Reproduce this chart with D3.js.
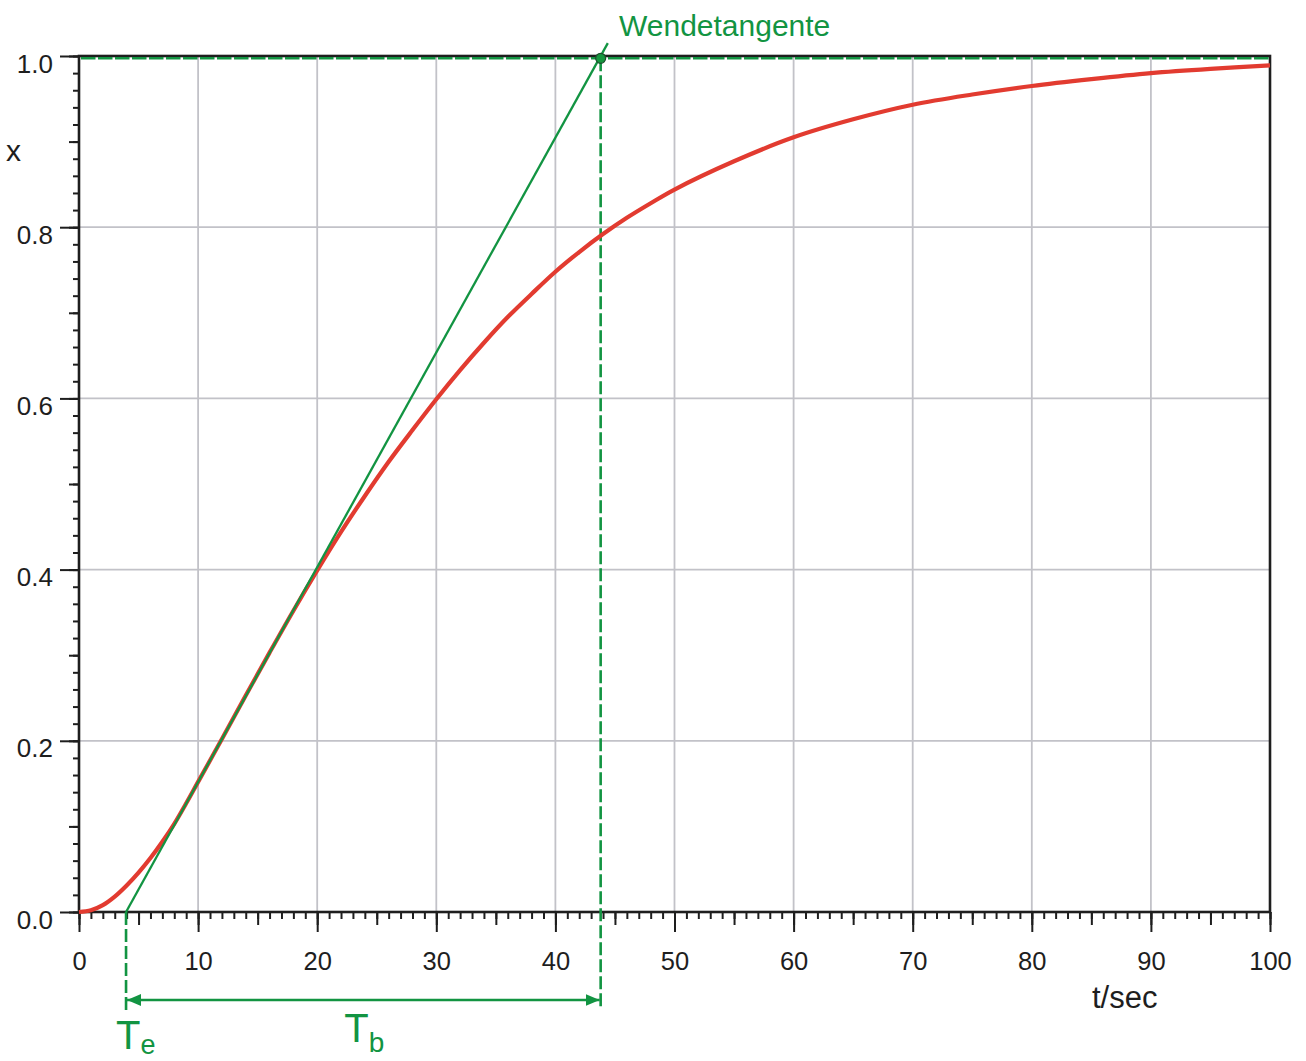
<!DOCTYPE html>
<html>
<head>
<meta charset="utf-8">
<script src="https://cdn.jsdelivr.net/npm/d3@7"></script>
<style>
    body { margin: 0; background: #fff; }
    svg { display: block; font-family: "Liberation Sans", Arial, sans-serif; }
</style>
</head>
<body>
<div id="chart"></div>
<script>
// Step response (t in sec, x normalised)
const tValues = [0, 1, 2, 3, 4, 5, 6, 7, 8, 9, 10, 12, 14, 16, 18, 20, 22, 24, 26, 28,
    30, 32, 34, 36, 38, 40, 42, 44, 46, 48, 50, 55, 60, 65, 70, 75, 80, 85, 90, 95, 100];
const xValues = [0, 0.002, 0.008, 0.018, 0.031, 0.046, 0.063, 0.082, 0.103, 0.127, 0.152,
    0.202, 0.253, 0.303, 0.352, 0.399, 0.444, 0.486, 0.526, 0.563,
    0.599, 0.633, 0.665, 0.695, 0.722, 0.748, 0.771, 0.792, 0.811, 0.828, 0.844,
    0.877, 0.905, 0.926, 0.943, 0.955, 0.965, 0.973, 0.980, 0.985, 0.989];

// Inflection tangent: crosses 0 at Te and 1 at Te+Tb, drawn a little past 1
const Te = 3.95;
const TeTb = 43.8;
const tangentEnd = 44.4;

const xTickLabels = ['0', '10', '20', '30', '40', '50', '60', '70', '80', '90', '100'];
const yTickLabels = ['0.0', '0.2', '0.4', '0.6', '0.8', '1.0'];

const width = 1306, height = 1061;
const green = '#129442';
const ink = '#1e1e1e';

const svg = d3.select('#chart').append('svg')
    .attr('width', width)
    .attr('height', height);

const x = d3.scaleLinear().domain([0, 100]).range([79, 1270]);
const y = d3.scaleLinear().domain([0, 1]).range([912, 56]);

// grid
svg.append('g')
    .selectAll('line')
    .data(xTickLabels.map(Number).filter(d => d > 0 && d < 100))
    .join('line')
    .attr('x1', d => x(d)).attr('x2', d => x(d))
    .attr('y1', y(0)).attr('y2', y(1))
    .attr('stroke', '#c2c2c8').attr('stroke-width', 1.8);

svg.append('g')
    .selectAll('line')
    .data(yTickLabels.map(Number).filter(d => d > 0 && d < 1))
    .join('line')
    .attr('x1', x(0)).attr('x2', x(100))
    .attr('y1', d => y(d)).attr('y2', d => y(d))
    .attr('stroke', '#c2c2c8').attr('stroke-width', 1.8);

// ticks: minor, medium, major
function styleAxis(g) {
    g.select('.domain').remove();
    g.selectAll('.tick line').attr('stroke', ink).attr('stroke-width', 2);
}

svg.append('g').attr('transform', `translate(${x(0)},0)`)
    .call(d3.axisLeft(y).tickValues(d3.range(0, 51).map(i => i / 50)).tickSize(6).tickFormat(''))
    .call(styleAxis);
svg.append('g').attr('transform', `translate(${x(0)},0)`)
    .call(d3.axisLeft(y).tickValues(d3.range(0, 11).map(i => i / 10)).tickSize(10).tickFormat(''))
    .call(styleAxis);
const yMajor = svg.append('g').attr('transform', `translate(${x(0)},0)`)
    .call(d3.axisLeft(y).tickValues(yTickLabels.map(Number)).tickSize(19).tickPadding(7)
        .tickFormat((d, i) => yTickLabels[i]))
    .call(styleAxis);
yMajor.selectAll('.tick text')
    .attr('font-size', 26).attr('fill', ink).attr('font-family', null).attr('dy', '0.62em');

svg.append('g').attr('transform', `translate(0,${y(0)})`)
    .call(d3.axisBottom(x).tickValues(d3.range(0, 101)).tickSize(7).tickFormat(''))
    .call(styleAxis);
svg.append('g').attr('transform', `translate(0,${y(0)})`)
    .call(d3.axisBottom(x).tickValues(d3.range(0, 101, 5)).tickSize(13).tickFormat(''))
    .call(styleAxis);
const xMajor = svg.append('g').attr('transform', `translate(0,${y(0)})`)
    .call(d3.axisBottom(x).tickValues(xTickLabels.map(Number)).tickSize(20).tickPadding(20)
        .tickFormat((d, i) => xTickLabels[i]))
    .call(styleAxis);
xMajor.selectAll('.tick text')
    .attr('font-size', 25.5).attr('fill', ink).attr('font-family', null);

// frame
svg.append('rect')
    .attr('x', x(0)).attr('y', y(1))
    .attr('width', x(100) - x(0)).attr('height', y(0) - y(1))
    .attr('fill', 'none').attr('stroke', ink).attr('stroke-width', 2.6);

// dashed helper lines (the 1.0 line sits just under the frame edge)
const oneY = y(1) + 2.3;
svg.append('line')
    .attr('x1', x(0) + 2).attr('x2', x(100) - 1)
    .attr('y1', oneY).attr('y2', oneY)
    .attr('stroke', green).attr('stroke-width', 2.6)
    .attr('stroke-dasharray', '14.5,2.5');

svg.append('line')
    .attr('x1', x(TeTb)).attr('x2', x(TeTb))
    .attr('y1', oneY).attr('y2', 1008)
    .attr('stroke', green).attr('stroke-width', 2.6)
    .attr('stroke-dasharray', '13,4');

svg.append('line')
    .attr('x1', x(Te)).attr('x2', x(Te))
    .attr('y1', y(0)).attr('y2', 1012)
    .attr('stroke', green).attr('stroke-width', 2.6)
    .attr('stroke-dasharray', '13,4');

// step response
const line = d3.line()
    .x((d, i) => x(tValues[i]))
    .y(d => y(d))
    .curve(d3.curveCatmullRom.alpha(0.5));

svg.append('path')
    .datum(xValues)
    .attr('d', line)
    .attr('fill', 'none')
    .attr('stroke', '#e23b30')
    .attr('stroke-width', 4.2);

// tangent
const slope = 1 / (TeTb - Te);
svg.append('line')
    .attr('x1', x(Te)).attr('y1', y(0))
    .attr('x2', x(tangentEnd)).attr('y2', y((tangentEnd - Te) * slope))
    .attr('stroke', green).attr('stroke-width', 2.3);

svg.append('circle')
    .attr('cx', x(TeTb)).attr('cy', oneY)
    .attr('r', 5)
    .attr('fill', '#16973f')
    .attr('stroke', '#1d4d2c')
    .attr('stroke-width', 1.2);

svg.append('text')
    .attr('x', 619).attr('y', 36)
    .attr('font-size', 30)
    .attr('fill', green)
    .text('Wendetangente');

// Tb arrow
const defs = svg.append('defs');
defs.append('marker')
    .attr('id', 'arrow')
    .attr('viewBox', '0 -6 14 12')
    .attr('refX', 14).attr('refY', 0)
    .attr('markerWidth', 14).attr('markerHeight', 12)
    .attr('markerUnits', 'userSpaceOnUse')
    .attr('orient', 'auto-start-reverse')
    .append('path')
    .attr('d', 'M0,-6 L14,0 L0,6 Z')
    .attr('fill', green);

svg.append('line')
    .attr('x1', x(Te) + 1).attr('x2', x(TeTb) - 1)
    .attr('y1', 1000).attr('y2', 1000)
    .attr('stroke', green).attr('stroke-width', 2.3)
    .attr('marker-start', 'url(#arrow)')
    .attr('marker-end', 'url(#arrow)');

// Te / Tb labels
const teLabel = svg.append('text')
    .attr('x', x(Te) - 10).attr('y', 1049)
    .attr('font-size', 40).attr('fill', green);
teLabel.append('tspan').text('T');
teLabel.append('tspan').attr('font-size', 27).attr('dy', 5).text('e');

const tbLabel = svg.append('text')
    .attr('x', (x(Te) + x(TeTb)) / 2 - 19).attr('y', 1042)
    .attr('font-size', 40).attr('fill', green);
tbLabel.append('tspan').text('T');
tbLabel.append('tspan').attr('font-size', 28).attr('dy', 10).text('b');

// axis titles
svg.append('text')
    .attr('x', 6).attr('y', 161)
    .attr('font-size', 30).attr('fill', ink)
    .text('x');

svg.append('text')
    .attr('x', 1092).attr('y', 1008)
    .attr('font-size', 31).attr('fill', ink)
    .text('t/sec');
</script>
</body>
</html>
